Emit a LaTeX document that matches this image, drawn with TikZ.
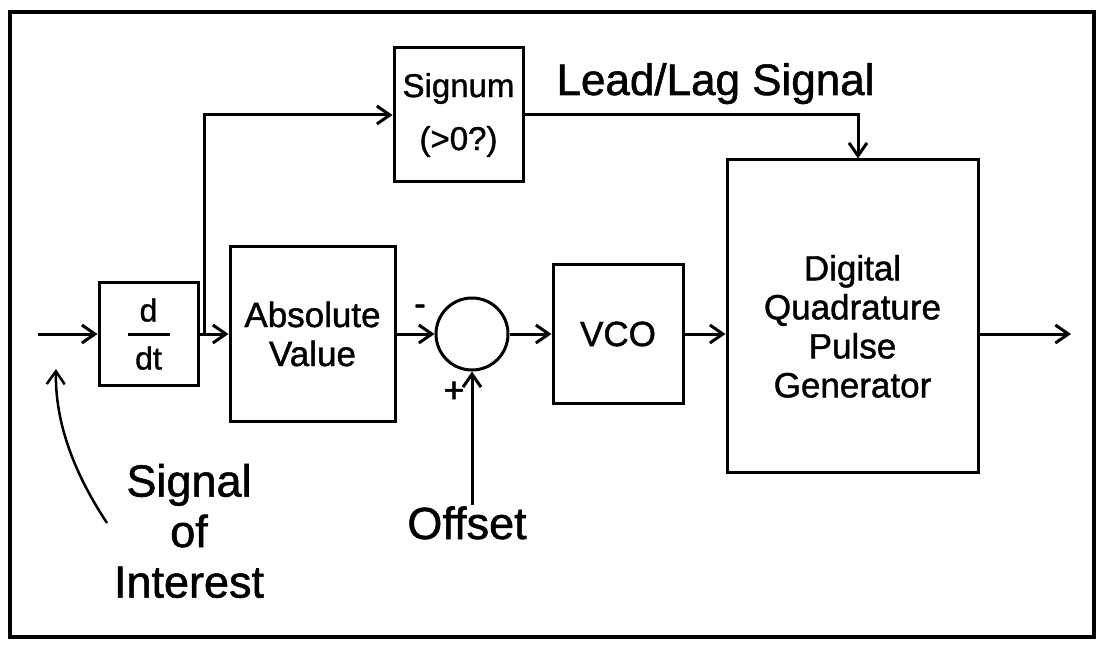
\documentclass[tikz,border=0pt]{standalone}
\usepackage{fontspec}
\setmainfont{Liberation Sans}[FakeBold=1.2]
\usetikzlibrary{arrows.meta}

\newcommand{\boxfont}{\fontsize{35}{39}\selectfont}
\newcommand{\signfont}{\fontsize{33}{53}\selectfont}
\newcommand{\ddtfont}{\fontsize{32}{33}\selectfont}
\newcommand{\leadfont}{\fontsize{44}{50}\selectfont}
\newcommand{\bigfont}{\fontsize{45}{50.5}\selectfont}

\tikzstyle{block} = [
    rectangle,
    draw=black,
    line width=3pt,
    inner sep=0pt,
    align=center,
    font=\boxfont
]
\tikzstyle{sumpoint} = [
    circle,
    draw=black,
    line width=3pt,
    inner sep=0pt,
    minimum size=72pt
]
\tikzstyle{arrow} = [line width=3pt,-{Straight Barb[length=13pt,width=18pt]}]

\begin{document}
\begin{tikzpicture}[x=1pt, y=-1pt, node distance=160pt]
\useasboundingbox (0,0) rectangle (1100,652);
\draw [line width=3.5pt] (10,12) rectangle (1094,637);

\node (ddt) [block, font=\ddtfont, minimum width=99pt, minimum height=102pt] at (148.5,334)
{d\\[-18pt]\rule{42pt}{3.5pt}\\dt};

\node (absval) [block, right of=ddt, node distance=164pt,
    minimum width=165pt, minimum height=174pt] {Absolute\\Value};

\node (sum) [sumpoint, right of=absval, node distance=159.5pt] {};

\node (vco) [block, right of=sum, node distance=146pt,
    minimum width=130pt, minimum height=138pt] {VCO};

\node (dqpg) [block, right of=vco, node distance=234.5pt, yshift=18pt,
    minimum width=251pt, minimum height=312pt]
{\rule{0pt}{46pt}Digital\\Quadrature\\Pulse\\Generator};

\node (signum) [block, font=\signfont, above of=sum, node distance=219pt, xshift=-13.5pt,
    minimum width=129pt, minimum height=134pt] {Signum\\(>0?)};

\coordinate (in) at (38,334);
\coordinate (branch) at (204,334);
\coordinate (out) at (1071,334);
\coordinate (offset) at (472,505);

\draw [arrow] (in) -- (ddt);
\draw [arrow] (ddt) -- (absval);
\draw [arrow] (branch) |- (signum.west);
\draw [arrow] (absval) -- (sum);
\draw [arrow] (sum) -- (vco);
\draw [arrow] (vco) -- (vco -| dqpg.west);
\draw [arrow] (signum.east) -| ([xshift=5.5pt]dqpg.north);
\draw [arrow] (dqpg.east |- vco) -- (out);
\draw [arrow] (offset) -- (sum);

% signs at the summing point
\node (minus) at (420,310) {\boxfont -};
\node (plus) at (454,392) {\fontsize{36}{36}\selectfont +};

% labels
\node (leadlag) [anchor=base west, font=\leadfont] at (553,95) {Lead/Lag Signal};
\node (offtext) [anchor=base, font=\bigfont] at (467,539) {Offset};
\node (interest) [align=center, font=\bigfont, inner sep=0pt] at (189,531) {Signal\\of\\Interest};

\coordinate (pstart) at (107,523);
\coordinate (pend) at (56,369);
\draw [arrow, line width=2.5pt] (pstart) .. controls (72,470) and (55,420) .. (pend);

\end{tikzpicture}
\end{document}
